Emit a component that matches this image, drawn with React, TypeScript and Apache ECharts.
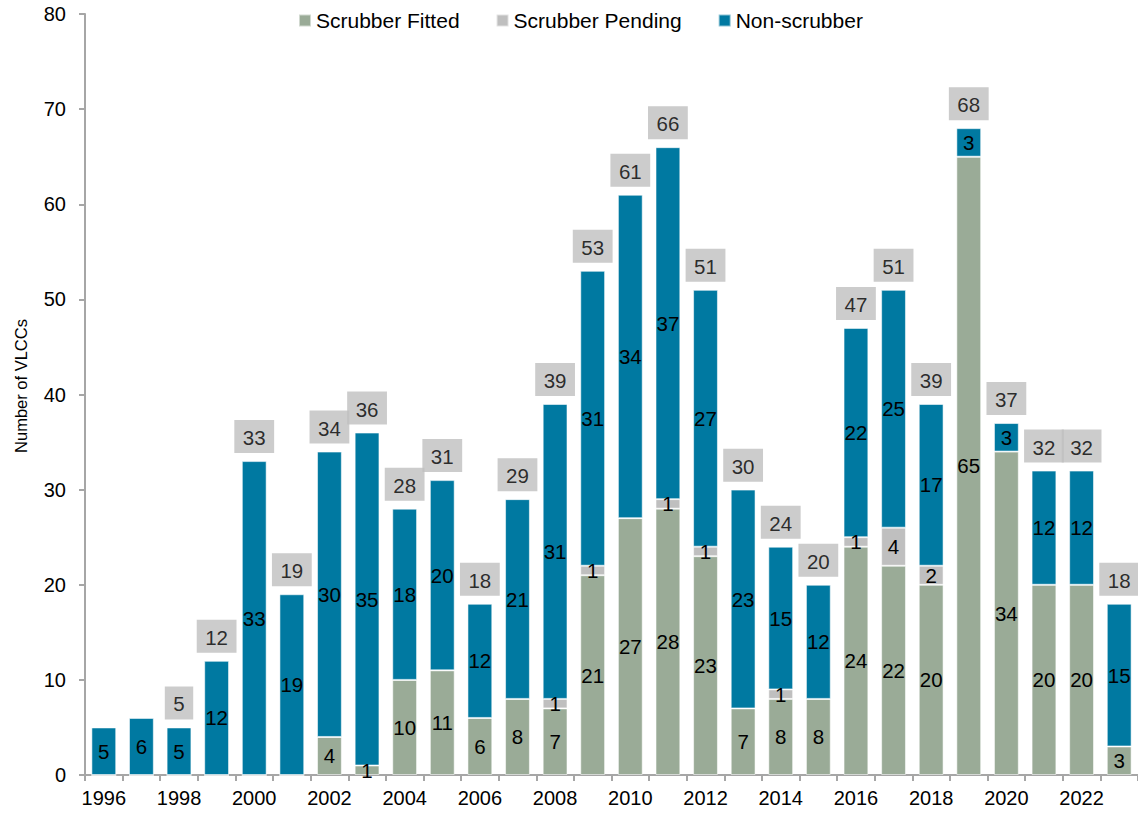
import React, { useEffect, useRef } from "react";
import * as echarts from "echarts";

const years = [
  "1996","1997","1998","1999","2000","2001","2002","2003","2004","2005",
  "2006","2007","2008","2009","2010","2011","2012","2013","2014","2015",
  "2016","2017","2018","2019","2020","2021","2022","2023",
];
const fitted = [0,0,0,0,0,0,4,1,10,11,6,8,7,21,27,28,23,7,8,8,24,22,20,65,34,20,20,3];
const pending = [0,0,0,0,0,0,0,0,0,0,0,0,1,1,0,1,1,0,1,0,1,4,2,0,0,0,0,0];
const nonScrubber = [5,6,5,12,33,19,30,35,18,20,12,21,31,31,34,37,27,23,15,12,22,25,17,3,3,12,12,15];
const totalLabels: (number | null)[] = [null,null,5,12,33,19,34,36,28,31,18,29,39,53,61,66,51,30,24,20,47,51,39,68,37,32,32,18];
const yTicks = { min: 0, max: 80, interval: 10 };
const yAxisTitle = "Number of VLCCs";

const FONT = "'Liberation Sans', Arial, sans-serif";
const C_FIT = "#9aab97";
const C_PEND = "#bfbfbf";
const C_NS = "#0079a1";

export default function App() {
  const ref = useRef<HTMLDivElement>(null);
  useEffect(() => {
    if (!ref.current) return;
    const chart = echarts.init(ref.current, null, { renderer: "svg" });
    const segLabel = {
      show: true,
      position: "inside",
      color: "#000",
      fontSize: 20.5,
      fontFamily: FONT,
      formatter: (p: any) => (p.value ? String(p.value) : ""),
    };
    const itemBorder = { borderColor: "rgba(255,255,255,0.55)", borderWidth: 1 };
    chart.setOption({
      animation: false,
      textStyle: { fontFamily: FONT },
      legend: {
        top: 5,
        left: 293,
        itemWidth: 12,
        itemHeight: 12,
        itemGap: 36,
        icon: "rect",
        textStyle: { fontSize: 21, color: "#000", fontFamily: FONT },
        data: ["Scrubber Fitted", "Scrubber Pending", "Non-scrubber"],
      },
      graphic: [
        {
          type: "text",
          x: 21,
          y: 386,
          rotation: Math.PI / 2,
          style: {
            text: yAxisTitle,
            fontSize: 16.5,
            fontFamily: FONT,
            fill: "#000",
            align: "center",
            verticalAlign: "middle",
          },
        },
      ],
      grid: { left: 85, right: -1, top: 14, bottom: 38, containLabel: false },
      xAxis: {
        type: "category",
        data: years,
        axisLine: { lineStyle: { color: "#a6a6a6", width: 2 } },
        axisTick: { show: true, alignWithLabel: false, interval: 0, length: 6, lineStyle: { color: "#a6a6a6", width: 2 } },
        axisLabel: { interval: 1, fontSize: 20, color: "#000", margin: 13, fontFamily: FONT },
      },
      yAxis: {
        type: "value",
        min: yTicks.min,
        max: yTicks.max,
        interval: yTicks.interval,
        splitLine: { show: false },
        axisLine: { show: true, lineStyle: { color: "#a6a6a6", width: 2 } },
        axisTick: { show: true, length: 6, lineStyle: { color: "#a6a6a6", width: 2 } },
        axisLabel: { fontSize: 20, color: "#000", margin: 19, fontFamily: FONT },
      },
      series: [
        {
          name: "Scrubber Fitted",
          type: "bar",
          stack: "s",
          barWidth: "66%",
          data: fitted,
          itemStyle: { color: C_FIT, ...itemBorder },
          label: segLabel,
        },
        {
          name: "Scrubber Pending",
          type: "bar",
          stack: "s",
          data: pending,
          itemStyle: { color: C_PEND, ...itemBorder },
          label: segLabel,
        },
        {
          name: "Non-scrubber",
          type: "bar",
          stack: "s",
          data: nonScrubber,
          itemStyle: { color: C_NS, ...itemBorder },
          label: segLabel,
        },
        {
          name: "Total",
          type: "scatter",
          symbolSize: 0,
          data: totalLabels.map((v) => (v == null ? null : v)),
          silent: true,
          label: {
            show: true,
            position: "top",
            distance: 8,
            color: "#000",
            fontSize: 20.5,
            fontFamily: FONT,
            backgroundColor: C_PEND,
            padding: [7, 8.5, 5, 8.5],
            formatter: (p: any) => String(p.value),
          },
        },
      ],
    });
    return () => chart.dispose();
  }, []);
  return (
    <div
      ref={ref}
      style={{ position: "fixed", left: 0, top: 0, width: 1138, height: 813, background: "#fff" }}
    />
  );
}
